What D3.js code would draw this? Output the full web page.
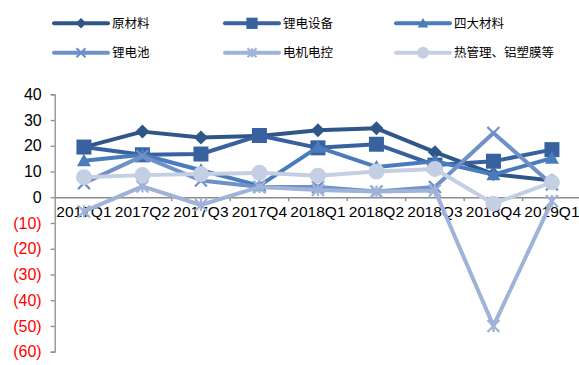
<!DOCTYPE html>
<html>
<head>
<meta charset="utf-8">
<script src="https://cdn.jsdelivr.net/npm/d3@7"></script>
<style>
  html, body { margin: 0; padding: 0; background: #fff; }
  svg { display: block; }
</style>
</head>
<body>
<svg id="chart" width="579" height="365"></svg>
<script>
// Quarterly growth by segment (%)
const categories = ["2017Q1","2017Q2","2017Q3","2017Q4","2018Q1","2018Q2","2018Q3","2018Q4","2019Q1"];
const seriesNames = ["原材料","锂电设备","四大材料","锂电池","电机电控","热管理、铝塑膜等"];
const rawMaterials   = [19.5, 25.5, 23.2, 23.8, 26.0, 26.8, 17.5, 9.0, 6.5];
const equipment      = [19.5, 16.5, 16.8, 24.0, 19.2, 20.6, 12.5, 14.0, 18.5];
const fourMaterials  = [14.2, 16.5, 10.5, 4.5, 19.5, 11.8, 14.0, 8.8, 15.2];
const batteries      = [5.5, 16.0, 6.5, 4.0, 4.0, 2.2, 4.0, 25.0, 5.0];
const motorControl   = [-5.5, 4.2, -3.0, 4.0, 2.8, 2.2, 2.6, -50.0, -1.5];
const thermalFilm    = [7.8, 8.6, 9.0, 9.5, 8.4, 10.0, 11.0, -2.5, 5.8];
const yTicks = [40, 30, 20, 10, 0, -10, -20, -30, -40, -50, -60];

const seriesValues = [rawMaterials, equipment, fourMaterials, batteries, motorControl, thermalFilm];
const colors = ["#2f5688", "#38629f", "#4a7bbd", "#6f90c9", "#9fb2d8", "#c5cfe3"];
const markers = ["diamond", "square", "triangle", "cross", "star", "circle"];

const svg = d3.select("#chart");

const x = d3.scaleBand().domain(categories).range([54.7, 581.2]).paddingInner(0).paddingOuter(0);
const y = d3.scaleLinear().domain([-60, 40]).range([351.7, 94.3]);

// Y axis
const yAxis = d3.axisLeft(y).tickValues(yTicks).tickSize(4).tickPadding(9)
  .tickFormat(d => d < 0 ? "(" + Math.abs(d) + ")" : String(d));
const gy = svg.append("g").attr("transform", "translate(54.7,0)").call(yAxis);
gy.select(".domain").attr("stroke", "#8c8c8c").attr("stroke-width", 1.3);
gy.selectAll(".tick line").attr("stroke", "#8c8c8c").attr("stroke-width", 1.3);
gy.selectAll(".tick text")
  .attr("font-family", "'Liberation Sans', Arial, sans-serif")
  .attr("font-size", 16)
  .attr("fill", d => d < 0 ? "#ff0000" : "#000");

// X axis along zero
const xAxis = d3.axisBottom(x).tickSize(0).tickPadding(9);
const gx = svg.append("g").attr("transform", `translate(0,${y(0)})`).call(xAxis);
gx.select(".domain").attr("stroke", "#8c8c8c").attr("stroke-width", 1.3);
gx.selectAll(".tick text")
  .attr("font-family", "'Liberation Sans', Arial, sans-serif")
  .attr("font-size", 15.5)
  .attr("fill", "#000");
// category boundary ticks
gx.selectAll(".bound").data(categories.slice(1)).enter().append("line")
  .attr("x1", d => x(d)).attr("x2", d => x(d))
  .attr("y1", 0).attr("y2", 4)
  .attr("stroke", "#8c8c8c").attr("stroke-width", 1.3);

const cx = d => x(d) + x.bandwidth() / 2;

function drawMarker(g, type, color, px, py, scale) {
  const s = scale || 1;
  if (type === "diamond") {
    const r = 7 * s;
    g.append("path").attr("d", `M${px},${py - r}L${px + r},${py}L${px},${py + r}L${px - r},${py}Z`).attr("fill", color);
  } else if (type === "square") {
    const r = 7.5 * s;
    g.append("rect").attr("x", px - r).attr("y", py - r).attr("width", 2 * r).attr("height", 2 * r).attr("fill", color);
  } else if (type === "triangle") {
    const r = 7 * s;
    g.append("path").attr("d", `M${px},${py - r}L${px + r},${py + r * 0.8}L${px - r},${py + r * 0.8}Z`).attr("fill", color);
  } else if (type === "cross") {
    const r = 6 * s;
    g.append("path").attr("d", `M${px - r},${py - r}L${px + r},${py + r}M${px + r},${py - r}L${px - r},${py + r}`)
      .attr("stroke", color).attr("stroke-width", 2.2).attr("fill", "none");
  } else if (type === "star") {
    const r = 6 * s;
    g.append("path").attr("d", `M${px - r},${py - r}L${px + r},${py + r}M${px + r},${py - r}L${px - r},${py + r}M${px},${py - r}L${px},${py + r}`)
      .attr("stroke", color).attr("stroke-width", 2.2).attr("fill", "none");
  } else if (type === "circle") {
    g.append("circle").attr("cx", px).attr("cy", py).attr("r", 8 * s).attr("fill", color);
  }
}

const line = d3.line().x((d, i) => cx(categories[i])).y(d => y(d));
const plot = svg.append("g");
seriesValues.forEach((vals, k) => {
  const g = plot.append("g");
  g.append("path").datum(vals).attr("d", line)
    .attr("fill", "none").attr("stroke", colors[k]).attr("stroke-width", 4)
    .attr("stroke-linejoin", "round");
  vals.forEach((v, i) => drawMarker(g, markers[k], colors[k], cx(categories[i]), y(v), 1));
});

// Legend
const legendPos = [
  [54, 23.3], [225, 23.3], [396, 23.3],
  [54, 52.7], [225, 52.7], [396, 52.7]
];
seriesNames.forEach((name, k) => {
  const [lx, ly] = legendPos[k];
  const g = svg.append("g");
  g.append("line").attr("x1", lx).attr("x2", lx + 54).attr("y1", ly).attr("y2", ly)
    .attr("stroke", colors[k]).attr("stroke-width", 4).attr("stroke-linecap", "round");
  drawMarker(g, markers[k], colors[k], lx + 27, ly, 0.75);
  g.append("text").attr("x", lx + 58).attr("y", ly + 4.5)
    .attr("font-family", "'Noto Sans CJK SC', sans-serif").attr("font-size", 12.5)
    .attr("fill", "#000").text(name);
});
</script>
</body>
</html>
